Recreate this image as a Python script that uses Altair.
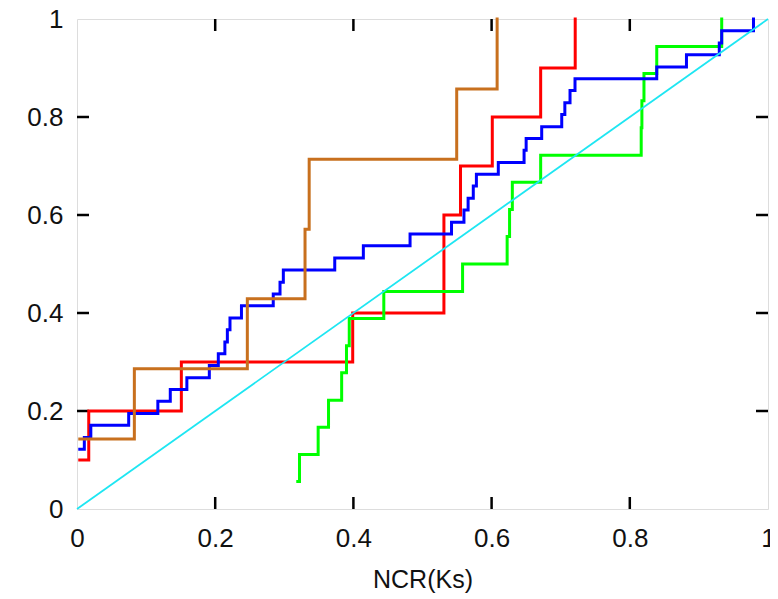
import altair as alt
import pandas as pd

# ECDF-like step series
red_x = [0.004, 0.017, 0.151, 0.399, 0.531, 0.555, 0.601, 0.671, 0.721]
red_y = [0.1, 0.2, 0.3, 0.4, 0.6, 0.7, 0.8, 0.9, 1.0]

brown_x = [0.004, 0.083, 0.2465, 0.330, 0.336, 0.5495, 0.608]
brown_y = [0.143, 0.286, 0.429, 0.571, 0.714, 0.857, 1.0]

green_x = [0.3195, 0.322, 0.349, 0.364, 0.383, 0.390, 0.394, 0.444, 0.558,
           0.6225, 0.626, 0.630, 0.671, 0.8165, 0.8175, 0.8205, 0.839, 0.933]
green_y = [0.056, 0.111, 0.167, 0.222, 0.278, 0.333, 0.389, 0.444, 0.5,
           0.556, 0.611, 0.667, 0.722, 0.778, 0.833, 0.889, 0.944, 1.0]

blue_x = [0.004, 0.0106, 0.020, 0.0748, 0.117, 0.135, 0.159, 0.1915, 0.2045,
          0.214, 0.2176, 0.2214, 0.238, 0.284, 0.2938, 0.2986, 0.373, 0.4144,
          0.482, 0.542, 0.560, 0.566, 0.5735, 0.578, 0.6097, 0.647, 0.650,
          0.6725, 0.7015, 0.706, 0.7135, 0.7207, 0.839, 0.882, 0.9295, 0.933, 0.979]
blue_y = [0.122, 0.146, 0.171, 0.195, 0.220, 0.244, 0.268, 0.293, 0.317,
          0.341, 0.366, 0.390, 0.415, 0.439, 0.463, 0.488, 0.512, 0.537,
          0.561, 0.585, 0.610, 0.634, 0.659, 0.683, 0.707, 0.732, 0.756,
          0.780, 0.805, 0.829, 0.854, 0.878, 0.902, 0.927, 0.951, 0.976, 1.0]

diag_x = [0.0, 1.0]
diag_y = [0.0, 1.0]

tick_values = [0.0, 0.2, 0.4, 0.6, 0.8, 1.0]
inner_ticks = [0.2, 0.4, 0.6, 0.8]

W, H = 691, 490
FONT = "Liberation Sans"

xs = alt.Scale(domain=[0, 1], nice=False, zero=False)
ys = alt.Scale(domain=[0, 1], nice=False, zero=False)

xaxis = alt.Axis(values=tick_values, format="~g", tickSize=0, domain=False, grid=False,
                 labelFontSize=26, labelFont=FONT, labelColor="#111111", labelPadding=16,
                 title="NCR(Ks)", titleFont=FONT, titleFontSize=25, titleFontWeight="normal",
                 titleColor="#111111", titlePadding=16, labelFlush=False)
yaxis = alt.Axis(values=tick_values, format="~g", tickSize=0, domain=False, grid=False,
                 labelFontSize=26, labelFont=FONT, labelColor="#111111", labelPadding=14,
                 title=None, labelFlush=False)


def step_layer(xv, yv, color, width=3):
    df = pd.DataFrame({"x": xv, "y": yv})
    return alt.Chart(df).mark_line(interpolate="step-after", color=color,
                                   strokeWidth=width, strokeCap="square").encode(
        x=alt.X("x:Q", scale=xs, axis=xaxis),
        y=alt.Y("y:Q", scale=ys, axis=yaxis),
    )


red = step_layer(red_x, red_y, "#ff0000")
green = step_layer(green_x, green_y, "#00ff00")
blue = step_layer(blue_x, blue_y, "#0000ff")
brown = step_layer(brown_x, brown_y, "#c8701e")

diag = alt.Chart(pd.DataFrame({"x": diag_x, "y": diag_y})).mark_line(
    color="#1ee6f2", strokeWidth=1.8).encode(
    x=alt.X("x:Q", scale=xs, axis=xaxis),
    y=alt.Y("y:Q", scale=ys, axis=yaxis),
)

tdf = pd.DataFrame({"t": inner_ticks})
tick_style = dict(color="black", strokeWidth=2.5)
tb = alt.Chart(tdf).mark_rule(**tick_style).encode(
    x=alt.X("t:Q", scale=xs, axis=xaxis), y=alt.value(H), y2=alt.value(H - 12))
tt = alt.Chart(tdf).mark_rule(**tick_style).encode(
    x=alt.X("t:Q", scale=xs, axis=xaxis), y=alt.value(0), y2=alt.value(12))
tl = alt.Chart(tdf).mark_rule(**tick_style).encode(
    y=alt.Y("t:Q", scale=ys, axis=yaxis), x=alt.value(0), x2=alt.value(12))
tr = alt.Chart(tdf).mark_rule(**tick_style).encode(
    y=alt.Y("t:Q", scale=ys, axis=yaxis), x=alt.value(W), x2=alt.value(W - 12))

chart = alt.layer(tb, tt, tl, tr, red, green, blue, brown, diag).properties(
    width=W, height=H,
    autosize=alt.AutoSizeParams(type="none"),
    padding={"left": 69, "top": 11, "right": 2, "bottom": 90},
).configure_view(stroke="black", strokeWidth=3).configure(background="white")

chart.save("out.html", embed_options={"renderer": "svg", "actions": False})
